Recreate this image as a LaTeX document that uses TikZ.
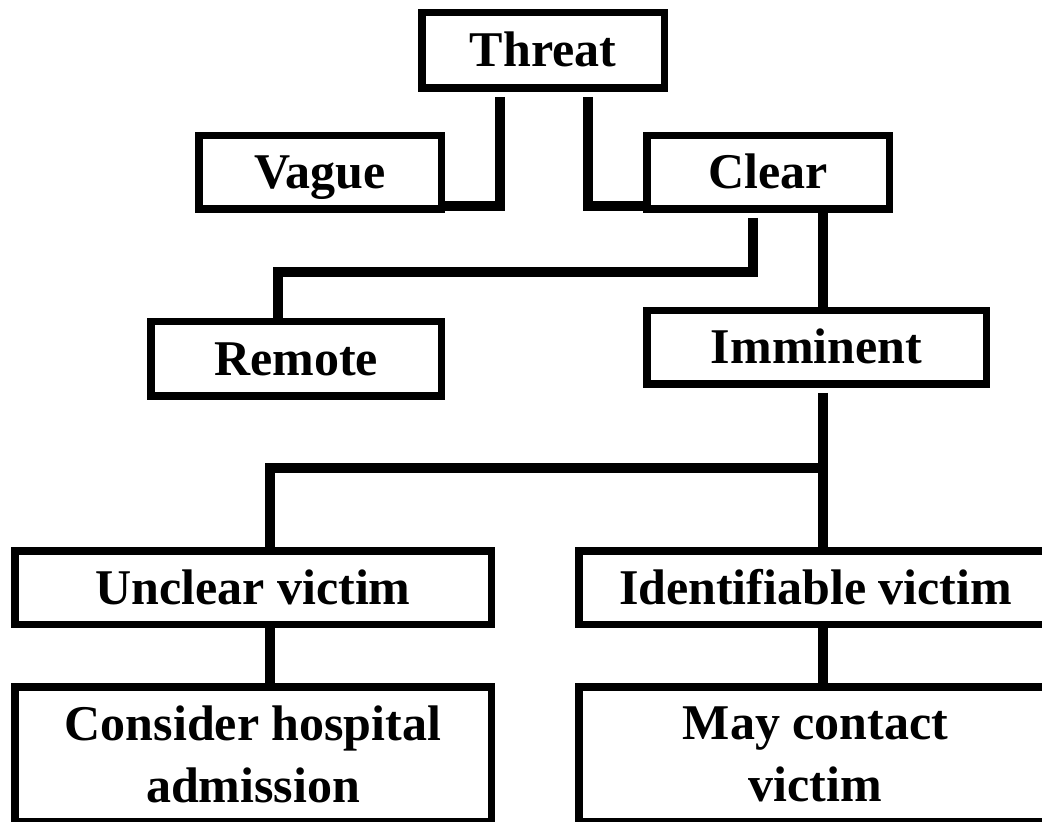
\documentclass[tikz,border=0pt]{standalone}
\usepackage{fontspec}
\setmainfont{Liberation Serif}
\usetikzlibrary{calc}
\begin{document}
\begin{tikzpicture}[x=0.5pt,y=-0.5pt,
  box/.style={draw, line width=3.75pt, outer sep=0pt, inner sep=0pt, minimum height=36.75pt,
              font=\bfseries\fontsize{25}{31}\selectfont, align=center},
  onel/.style={text height=16.5pt, text depth=0pt},
  link/.style={line width=5pt, line join=miter}]
\useasboundingbox (0,0) rectangle (1042,822);
\clip (0,0) rectangle (1042,822);

\node[box, onel, minimum width=121.25pt, minimum height=37.75pt] (threat) at (543,50.5) {Threat};
\node[box, onel, minimum width=121.25pt] (vague) at (320,172.5) {Vague};
\node[box, onel, minimum width=121.25pt] (clear) at (768,172.5) {Clear};
\node[box, onel, minimum width=145.25pt, minimum height=37.25pt] (remote) at (296,359) {Remote};
\node[box, onel, minimum width=169.75pt] (imminent) at (816.5,347.5) {Imminent};
\node[box, onel, minimum width=238.25pt] (unclear) at (253,587.5) {Unclear victim};
\node[box, minimum width=238.25pt, minimum height=67.5pt] (consider) at (253,754.25) {Consider hospital\\admission};
\node[box, onel, minimum width=236.75pt] (ident) at (815.5,587.5) {Identifiable victim};
\node[box, minimum width=236.75pt, minimum height=67.5pt] (may) at (815.5,754.25) {May contact\\victim};

% Threat -> Vague / Clear
\draw[link] ($(threat.south)+(-43,8.75)$) |- ($(vague.south east)+(0,-3)$);
\draw[link] ($(threat.south)+(45,8.75)$) |- ($(clear.south west)+(0,-3)$);
% Clear -> Remote / Imminent
\draw[link] ($(clear.south)+(-15,8.75)$) |- ($(remote.north)+(-18,-49.75)$) -- ($(remote.north)+(-18,0)$);
\draw[link] ($(clear.south)+(55,0)$) -- ($(imminent.north)+(6.5,0)$);
% Imminent -> victims
\coordinate (j) at ($(imminent.south)+(6.5,83.75)$);
\draw[link] ($(imminent.south)+(6.5,8.75)$) -- ($(ident.north)+(7.5,0)$);
\draw[link] (j) -| ($(unclear.north)+(17,0)$);
% victims -> actions
\draw[link] ($(unclear.south)+(17,0)$) -- ($(consider.north)+(17,0)$);
\draw[link] ($(ident.south)+(7.5,0)$) -- ($(may.north)+(7.5,0)$);
\end{tikzpicture}
\end{document}
